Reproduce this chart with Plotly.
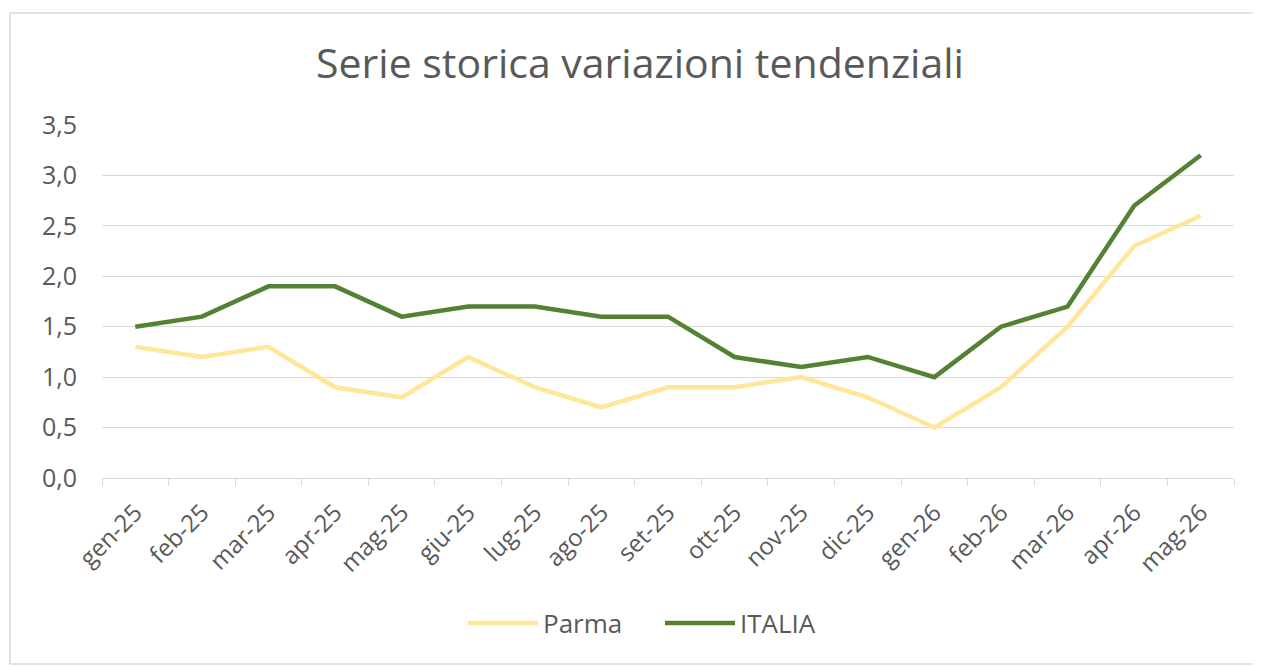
import plotly.graph_objects as go

categories = ["gen-25", "feb-25", "mar-25", "apr-25", "mag-25", "giu-25", "lug-25", "ago-25",
              "set-25", "ott-25", "nov-25", "dic-25", "gen-26", "feb-26", "mar-26", "apr-26", "mag-26"]
parma = [1.3, 1.2, 1.3, 0.9, 0.8, 1.2, 0.9, 0.7, 0.9, 0.9, 1.0, 0.8, 0.5, 0.9, 1.5, 2.3, 2.6]
italia = [1.5, 1.6, 1.9, 1.9, 1.6, 1.7, 1.7, 1.6, 1.6, 1.2, 1.1, 1.2, 1.0, 1.5, 1.7, 2.7, 3.2]
y_ticks = [0, 0.5, 1.0, 1.5, 2.0, 2.5, 3.0, 3.5]

FONT = "Open Sans"
TXT = "#595959"
GRID = "#D9D9D9"

W, H = 1253, 658
L, T, R, B = 94, 117, 27, 188
PW = W - L - R
PH = H - T - B

fig = go.Figure()
fig.add_trace(go.Scatter(x=categories, y=parma, mode="lines", name="Parma",
                         line=dict(color="#FFE699", width=4.5)))
fig.add_trace(go.Scatter(x=categories, y=italia, mode="lines", name="ITALIA",
                         line=dict(color="#548235", width=4.5)))

fig.update_layout(
    width=W, height=H,
    margin=dict(l=L, r=R, t=T, b=B),
    paper_bgcolor="white", plot_bgcolor="white",
    separators=",.",
    font=dict(family=FONT, color=TXT, size=24),
    title=dict(text="Serie storica variazioni tendenziali", x=(640 - 8) / W, xanchor="center",
               y=1 - 56 / H, yanchor="middle", yref="container",
               font=dict(family=FONT, size=41, color=TXT)),
    xaxis=dict(type="category", tickangle=-45, showgrid=False, showline=True,
               linecolor=GRID, linewidth=1, ticks="outside", tickson="boundaries",
               ticklen=7, tickcolor=GRID, tickfont=dict(size=24, color=TXT),
               ticklabelstandoff=10,
               range=[-0.5, len(categories) - 0.5], fixedrange=True),
    yaxis=dict(range=[0, 3.5], tickvals=y_ticks, tickformat=".1f", showgrid=True,
               gridcolor=GRID, gridwidth=1, zeroline=False, showline=False,
               ticklabelstandoff=24, tickfont=dict(size=25, color=TXT)),
    legend=dict(orientation="h", x=(660 - 102) / 1132, xanchor="center", y=-145 / PH,
                yanchor="middle", font=dict(size=26, color=TXT),
                itemwidth=70, tracegroupgap=0, entrywidth=112, entrywidthmode="pixels"),
    showlegend=True,
    shapes=[dict(type="rect", xref="paper", yref="paper",
                 x0=(2 - L) / PW, x1=(1250 - L) / PW,
                 y0=(T + PH - 656) / PH, y1=(T + PH - 5) / PH,
                 line=dict(color=GRID, width=1.5), fillcolor="rgba(0,0,0,0)", layer="below")],
)

fig.write_html("out.html")
